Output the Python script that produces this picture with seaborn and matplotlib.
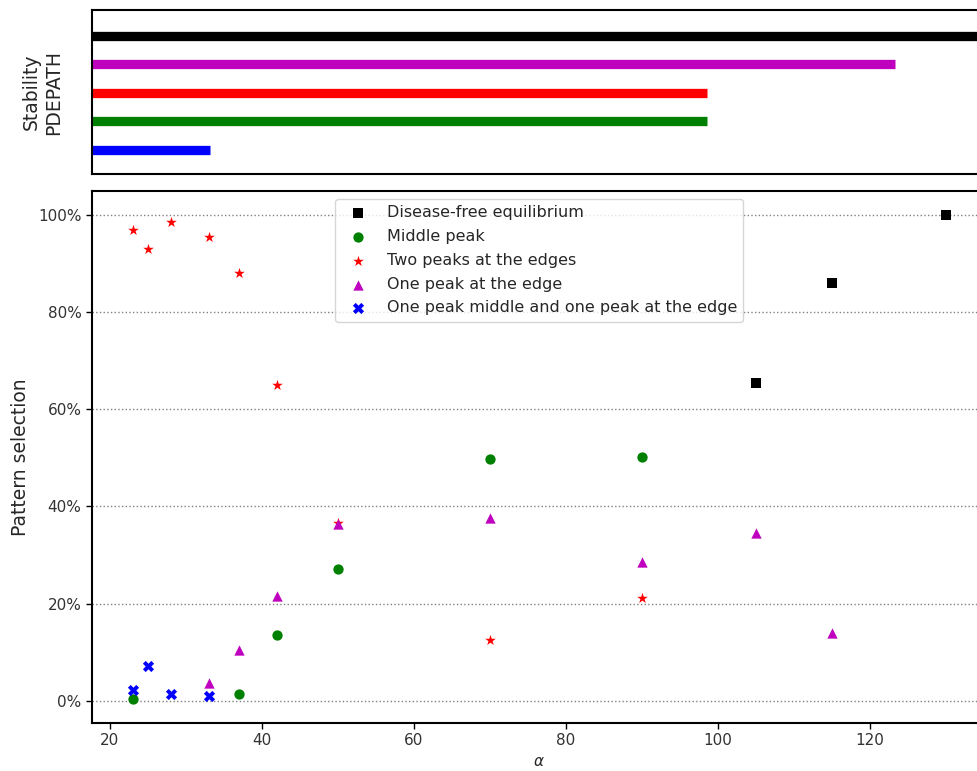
import matplotlib
matplotlib.use("Agg")
import matplotlib.pyplot as plt
import seaborn as sns
from matplotlib.ticker import PercentFormatter

# pattern selection (%) against alpha
alpha_dfe = [105, 115, 130]
dfe = [65.5, 86.0, 100.0]

alpha_mid = [23, 37, 42, 50, 70, 90]
mid = [0.4, 1.4, 13.6, 27.1, 49.8, 50.2]

alpha_two = [23, 25, 28, 33, 37, 42, 50, 70, 90]
two = [96.9, 93.0, 98.6, 95.5, 88.0, 65.0, 36.7, 12.6, 21.1]

alpha_one = [33, 37, 42, 50, 70, 90, 105, 115]
one = [3.6, 10.5, 21.6, 36.3, 37.6, 28.6, 34.6, 14.0]

alpha_mix = [23, 25, 28, 33]
mix = [2.3, 7.1, 1.4, 1.0]

# stability ranges from PDEPATH (alpha from 0 to end)
stab_level = [5, 4, 3, 2, 1]
stab_end = [150, 123.3, 98.5, 98.5, 33.2]
stab_color = ['k', 'm', 'r', 'g', 'b']

sns.set_style("ticks", {"axes.edgecolor": "black", "xtick.color": "black", "ytick.color": "black"})
plt.rcParams['font.family'] = ['DejaVu Sans']

fig = plt.figure(figsize=(9.77, 7.71), dpi=100)
ax = fig.add_axes([0.0942, 0.0623, 0.9157, 0.690])
ax_top = fig.add_axes([0.0942, 0.7743, 0.9157, 0.2127])

ms = 55
sns.scatterplot(x=alpha_dfe, y=dfe, marker='s', color='k', s=ms, linewidth=0, label='Disease-free equilibrium', ax=ax)
sns.scatterplot(x=alpha_mid, y=mid, marker='o', color='g', s=ms, linewidth=0, label='Middle peak', ax=ax)
sns.scatterplot(x=alpha_two, y=two, marker='*', color='r', s=ms + 10, linewidth=0, label='Two peaks at the edges', ax=ax)
sns.scatterplot(x=alpha_one, y=one, marker='^', color='m', s=ms, linewidth=0, label='One peak at the edge', ax=ax)
sns.scatterplot(x=alpha_mix, y=mix, marker='X', color='b', s=ms + 10, linewidth=0, label='One peak middle and one peak at the edge', ax=ax)

ax.yaxis.set_major_formatter(PercentFormatter(100, decimals=0))
ax.grid(axis='y', linestyle=':', color='grey', linewidth=1)
ax.yaxis.get_gridlines()[0].set_visible(False)
ax.set_xlabel(r'$\alpha$', fontsize=11)
ax.set_ylabel('Pattern selection', fontsize=13.5, labelpad=6)
ax.tick_params(labelsize=11, width=1, length=4, labelcolor='0.2')
for sp in ax.spines.values():
    sp.set_linewidth(1.5)
ax.legend(loc='upper center', fontsize=11.5, labelspacing=0.55, labelcolor='0.15')

# top panel: stability bars
for lvl, end, c in zip(stab_level, stab_end, stab_color):
    ax_top.plot([0, end], [lvl, lvl], color=c, linewidth=6.7, solid_capstyle='butt')
ax_top.set_xlim(ax.get_xlim())
ax_top.set_ylim(0.15, 5.9)
ax_top.set_xticks([])
ax_top.set_yticks([])
ax_top.set_ylabel('Stability\nPDEPATH', fontsize=13.5, labelpad=21)
for sp in ax_top.spines.values():
    sp.set_linewidth(1.5)

fig.savefig('out.png', dpi=100)
